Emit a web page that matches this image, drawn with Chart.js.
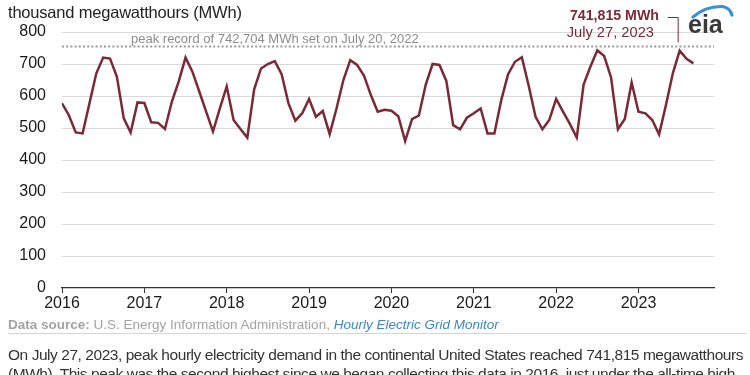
<!DOCTYPE html>
<html>
<head>
<meta charset="utf-8">
<script src="https://cdn.jsdelivr.net/npm/chart.js@4.4.0/dist/chart.umd.min.js"></script>
<style>
  html, body { margin:0; padding:0; background:#fff; }
  body { width:750px; height:375px; overflow:hidden; position:relative; font-family:"Liberation Sans", Arial, sans-serif; }
  #wrap { position:absolute; left:0; top:0; width:750px; height:320px; }
  .t { position:absolute; white-space:nowrap; }
  #title { left:8px; top:3px; font-size:16.5px; color:#222; letter-spacing:-0.2px; }
  #rec { left:131px; top:31px; font-size:13px; color:#8c8c8c; }
  #ann1 { right:91px; top:7px; font-size:14.2px; font-weight:bold; color:#7a2a36; }
  #ann2 { right:96px; top:24px; font-size:14.7px; color:#7a2a36; }
  #src { left:8px; top:317px; font-size:13.5px; color:#a3a3a3; }
  #src b { font-weight:bold; }
  #src i { color:#3f86c6; }
  #hr { position:absolute; left:8px; right:4px; top:333px; height:1px; background:#d6d6d6; }
  #para { left:8px; top:345px; font-size:15.5px; color:#333; line-height:19px; white-space:normal; width:748px; letter-spacing:-0.45px; }
  #logo { position:absolute; left:684px; top:0px; }
</style>
</head>
<body>
<div id="wrap"><canvas id="c" width="750" height="320"></canvas></div>
<div class="t" id="title">thousand megawatthours (MWh)</div>
<div class="t" id="rec">peak record of 742,704 MWh set on July 20, 2022</div>
<div class="t" id="ann1">741,815 MWh</div>
<div class="t" id="ann2">July 27, 2023</div>
<svg id="logo" width="60" height="40" viewBox="0 0 60 40">
  <path d="M9 17 Q22 6 38 6.5 Q46 7.5 48 15" stroke="#3b8fd3" stroke-width="3.2" fill="none" stroke-linecap="round"/>
  <text x="4" y="33" font-family="Liberation Sans, Arial, sans-serif" font-size="25" font-weight="bold" fill="#3a3a3a">eia</text>
</svg>
<div class="t" id="src"><b>Data source:</b> U.S. Energy Information Administration, <i>Hourly Electric Grid Monitor</i></div>
<div id="hr"></div>
<div class="t" id="para">On July 27, 2023, peak hourly electricity demand in the continental United States reached 741,815 megawatthours (MWh). This peak was the second highest since we began collecting this data in 2016, just under the all-time high</div>
<script>
// Monthly peak hourly demand, thousand MWh, Jan 2016 .. Sep 2023
const startYear = 2016;
const peakDemand = [
  577, 540, 486, 483, 577, 671, 720, 717, 660, 530, 486, 580,   // 2016
  578, 518, 516, 497, 582, 645, 720, 676, 614, 551, 489, 561,   // 2017
  630, 525, 497, 470, 621, 686, 700, 709, 668, 577, 523, 546,   // 2018
  591, 535, 553, 481, 561, 650, 712, 697, 664, 603, 551, 557,   // 2019
  554, 537, 459, 528, 539, 636, 700, 697, 647, 509, 496, 532,   // 2020
  546, 561, 483, 483, 587, 668, 707, 721, 632, 535, 496, 525,   // 2021
  591, 551, 513, 470, 636, 692, 742.7, 725, 658, 496, 528, 642, // 2022
  551, 546, 525, 480, 572, 671, 741.8, 716, 702                  // 2023
];
const yearTicks = [2016, 2017, 2018, 2019, 2020, 2021, 2022, 2023];
const yTicks = [0, 100, 200, 300, 400, 500, 600, 700, 800];
const recordLineLevel = 755;
const peakMonthIndex = 90; // July 2023
const axisEndMonth = 95;   // Dec 2023

const linePoints = peakDemand.map((v, i) => ({ x: i, y: v }));
const recordPoints = [{ x: 0, y: recordLineLevel }, { x: axisEndMonth, y: recordLineLevel }];

const leader = {
  id: 'leader',
  afterDatasetsDraw(chart) {
    const ctx = chart.ctx, xs = chart.scales.x, ys = chart.scales.y;
    const px = xs.getPixelForValue(peakMonthIndex) - 2;
    const top = 17.5;
    const bottom = ys.getPixelForValue(recordLineLevel) - 4;
    ctx.save();
    ctx.strokeStyle = '#7a2a36';
    ctx.lineWidth = 1;
    ctx.beginPath();
    ctx.moveTo(px - 10, top);
    ctx.lineTo(px + 0.5, top);
    ctx.lineTo(px + 0.5, bottom);
    ctx.stroke();
    ctx.restore();
  }
};

new Chart(document.getElementById('c'), {
  type: 'line',
  data: {
    datasets: [
      { data: recordPoints, borderColor: '#9b9b9b', borderWidth: 2, borderDash: [2, 2.2], pointRadius: 0, order: 2 },
      { data: linePoints, borderColor: '#7a2a36', borderWidth: 2.5, pointRadius: 0, tension: 0, order: 1 }
    ]
  },
  options: {
    responsive: false,
    animation: false,
    events: [],
    layout: { padding: { top: 32, right: 36, left: 0, bottom: 0 } },
    plugins: { legend: { display: false }, tooltip: { enabled: false } },
    scales: {
      x: {
        type: 'linear',
        min: 0,
        max: axisEndMonth,
        afterBuildTicks: (s) => { s.ticks = yearTicks.map(y => ({ value: (y - startYear) * 12 })); },
        afterFit: (s) => { s.height = 32; },
        ticks: {
          autoSkip: false, maxRotation: 0, padding: 1,
          color: '#1a1a1a', font: { family: 'Liberation Sans', size: 16 },
          callback: (v) => String(startYear + v / 12)
        },
        grid: { drawOnChartArea: false, drawTicks: true, tickLength: 5, color: '#333', lineWidth: 1 },
        border: { display: true, color: '#333', width: 1.2 }
      },
      y: {
        min: 0, max: 800,
        afterBuildTicks: (s) => { s.ticks = yTicks.map(v => ({ value: v })); },
        afterFit: (s) => { s.width = 62; },
        ticks: { padding: 16, color: '#1a1a1a', font: { family: 'Liberation Sans', size: 16 } },
        grid: { drawTicks: false, color: (c) => c.tick.value === 0 ? 'rgba(0,0,0,0)' : '#d9d9d9', lineWidth: 1 },
        border: { display: false }
      }
    }
  },
  plugins: [leader]
});
</script>
</body>
</html>
